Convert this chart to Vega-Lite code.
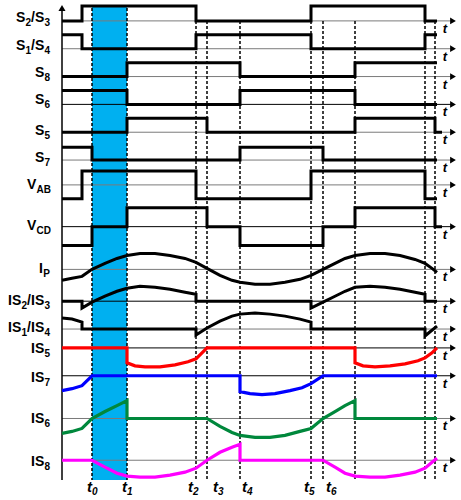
{
  "$schema": "https://vega.github.io/schema/vega-lite/v6.json",
  "width": 461, "height": 500, "padding": 0,
  "autosize": {"type": "fit", "contains": "padding"},
  "background": "white",
  "config": {"view": {"stroke": null}},
  "resolve": {"scale": {"color": "independent"}},
  "datasets": {
    "band": [{"x1": 92, "x2": 127, "y1": 3, "y2": 480}],
    "base": [
      {"y": 18, "c": "g"}, {"y": 46, "c": "g"}, {"y": 74, "c": "g"}, {"y": 102, "c": "k"}, {"y": 130, "c": "g"},
      {"y": 158, "c": "g"}, {"y": 183, "c": "g"}, {"y": 225, "c": "k"}, {"y": 268, "c": "g"}, {"y": 300, "c": "k"},
      {"y": 328, "c": "g"}, {"y": 347, "c": "k"}, {"y": 375, "c": "k"}, {"y": 418, "c": "g"}, {"y": 460, "c": "g"}
    ],
    "dash": [
      {"x": 92, "y1": 5, "y2": 480}, {"x": 127, "y1": 5, "y2": 480}, {"x": 196, "y1": 18, "y2": 480},
      {"x": 207, "y1": 18, "y2": 480}, {"x": 240, "y1": 18, "y2": 480}, {"x": 311, "y1": 18, "y2": 480},
      {"x": 323, "y1": 18, "y2": 480}, {"x": 355, "y1": 18, "y2": 480}, {"x": 425, "y1": 18, "y2": 480},
      {"x": 435, "y1": 18, "y2": 480}
    ],
    "axis": [{"x": 62, "y1": 5, "y2": 480}],
    "sig": [
      {"s": "S23", "i": 0, "x": 62, "y": 18}, {"s": "S23", "i": 1, "x": 82, "y": 18}, {"s": "S23", "i": 2, "x": 82, "y": 3}, {"s": "S23", "i": 3, "x": 196, "y": 3}, {"s": "S23", "i": 4, "x": 196, "y": 18}, {"s": "S23", "i": 5, "x": 311, "y": 18}, {"s": "S23", "i": 6, "x": 311, "y": 3}, {"s": "S23", "i": 7, "x": 425, "y": 3}, {"s": "S23", "i": 8, "x": 425, "y": 18}, {"s": "S23", "i": 9, "x": 437, "y": 18},
      {"s": "S14", "i": 0, "x": 62, "y": 32}, {"s": "S14", "i": 1, "x": 82, "y": 32}, {"s": "S14", "i": 2, "x": 82, "y": 46}, {"s": "S14", "i": 3, "x": 196, "y": 46}, {"s": "S14", "i": 4, "x": 196, "y": 32}, {"s": "S14", "i": 5, "x": 311, "y": 32}, {"s": "S14", "i": 6, "x": 311, "y": 46}, {"s": "S14", "i": 7, "x": 425, "y": 46}, {"s": "S14", "i": 8, "x": 425, "y": 32}, {"s": "S14", "i": 9, "x": 437, "y": 32},
      {"s": "S8", "i": 0, "x": 62, "y": 74}, {"s": "S8", "i": 1, "x": 127, "y": 74}, {"s": "S8", "i": 2, "x": 127, "y": 60}, {"s": "S8", "i": 3, "x": 240, "y": 60}, {"s": "S8", "i": 4, "x": 240, "y": 74}, {"s": "S8", "i": 5, "x": 355, "y": 74}, {"s": "S8", "i": 6, "x": 355, "y": 60}, {"s": "S8", "i": 7, "x": 437, "y": 60},
      {"s": "S6", "i": 0, "x": 62, "y": 88}, {"s": "S6", "i": 1, "x": 127, "y": 88}, {"s": "S6", "i": 2, "x": 127, "y": 102}, {"s": "S6", "i": 3, "x": 240, "y": 102}, {"s": "S6", "i": 4, "x": 240, "y": 88}, {"s": "S6", "i": 5, "x": 355, "y": 88}, {"s": "S6", "i": 6, "x": 355, "y": 102}, {"s": "S6", "i": 7, "x": 437, "y": 102},
      {"s": "S5", "i": 0, "x": 62, "y": 130}, {"s": "S5", "i": 1, "x": 127, "y": 130}, {"s": "S5", "i": 2, "x": 127, "y": 116}, {"s": "S5", "i": 3, "x": 207, "y": 116}, {"s": "S5", "i": 4, "x": 207, "y": 130}, {"s": "S5", "i": 5, "x": 355, "y": 130}, {"s": "S5", "i": 6, "x": 355, "y": 116}, {"s": "S5", "i": 7, "x": 435, "y": 116}, {"s": "S5", "i": 8, "x": 435, "y": 130}, {"s": "S5", "i": 9, "x": 442, "y": 130},
      {"s": "S7", "i": 0, "x": 62, "y": 145}, {"s": "S7", "i": 1, "x": 92, "y": 145}, {"s": "S7", "i": 2, "x": 92, "y": 158}, {"s": "S7", "i": 3, "x": 240, "y": 158}, {"s": "S7", "i": 4, "x": 240, "y": 145}, {"s": "S7", "i": 5, "x": 323, "y": 145}, {"s": "S7", "i": 6, "x": 323, "y": 158}, {"s": "S7", "i": 7, "x": 437, "y": 158},
      {"s": "VAB", "i": 0, "x": 62, "y": 197}, {"s": "VAB", "i": 1, "x": 82, "y": 197}, {"s": "VAB", "i": 2, "x": 82, "y": 169}, {"s": "VAB", "i": 3, "x": 196, "y": 169}, {"s": "VAB", "i": 4, "x": 196, "y": 197}, {"s": "VAB", "i": 5, "x": 311, "y": 197}, {"s": "VAB", "i": 6, "x": 311, "y": 169}, {"s": "VAB", "i": 7, "x": 425, "y": 169}, {"s": "VAB", "i": 8, "x": 425, "y": 197}, {"s": "VAB", "i": 9, "x": 437, "y": 197},
      {"s": "VCD", "i": 0, "x": 62, "y": 244}, {"s": "VCD", "i": 1, "x": 92, "y": 244}, {"s": "VCD", "i": 2, "x": 92, "y": 225}, {"s": "VCD", "i": 3, "x": 127, "y": 225}, {"s": "VCD", "i": 4, "x": 127, "y": 206}, {"s": "VCD", "i": 5, "x": 207, "y": 206}, {"s": "VCD", "i": 6, "x": 207, "y": 225}, {"s": "VCD", "i": 7, "x": 240, "y": 225}, {"s": "VCD", "i": 8, "x": 240, "y": 244}, {"s": "VCD", "i": 9, "x": 323, "y": 244}, {"s": "VCD", "i": 10, "x": 323, "y": 225}, {"s": "VCD", "i": 11, "x": 355, "y": 225}, {"s": "VCD", "i": 12, "x": 355, "y": 206}, {"s": "VCD", "i": 13, "x": 435, "y": 206}, {"s": "VCD", "i": 14, "x": 435, "y": 225}, {"s": "VCD", "i": 15, "x": 442, "y": 225},
      {"s": "IP", "i": 0, "x": 62, "y": 279}, {"s": "IP", "i": 1, "x": 72, "y": 277}, {"s": "IP", "i": 2, "x": 82, "y": 275}, {"s": "IP", "i": 3, "x": 92, "y": 268}, {"s": "IP", "i": 4, "x": 105, "y": 262}, {"s": "IP", "i": 5, "x": 117, "y": 257}, {"s": "IP", "i": 6, "x": 127, "y": 254}, {"s": "IP", "i": 7, "x": 140, "y": 252}, {"s": "IP", "i": 8, "x": 155, "y": 252}, {"s": "IP", "i": 9, "x": 170, "y": 254}, {"s": "IP", "i": 10, "x": 185, "y": 257}, {"s": "IP", "i": 11, "x": 196, "y": 261}, {"s": "IP", "i": 12, "x": 207, "y": 267}, {"s": "IP", "i": 13, "x": 220, "y": 274}, {"s": "IP", "i": 14, "x": 232, "y": 279}, {"s": "IP", "i": 15, "x": 240, "y": 281}, {"s": "IP", "i": 16, "x": 255, "y": 283}, {"s": "IP", "i": 17, "x": 270, "y": 283}, {"s": "IP", "i": 18, "x": 285, "y": 281}, {"s": "IP", "i": 19, "x": 300, "y": 278}, {"s": "IP", "i": 20, "x": 311, "y": 274}, {"s": "IP", "i": 21, "x": 323, "y": 268}, {"s": "IP", "i": 22, "x": 335, "y": 262}, {"s": "IP", "i": 23, "x": 345, "y": 257}, {"s": "IP", "i": 24, "x": 355, "y": 254}, {"s": "IP", "i": 25, "x": 370, "y": 252}, {"s": "IP", "i": 26, "x": 385, "y": 252}, {"s": "IP", "i": 27, "x": 400, "y": 254}, {"s": "IP", "i": 28, "x": 415, "y": 258}, {"s": "IP", "i": 29, "x": 425, "y": 262}, {"s": "IP", "i": 30, "x": 432, "y": 267}, {"s": "IP", "i": 31, "x": 437, "y": 271},
      {"s": "IS23", "i": 0, "x": 62, "y": 300}, {"s": "IS23", "i": 1, "x": 82, "y": 300}, {"s": "IS23", "i": 2, "x": 82, "y": 307}, {"s": "IS23", "i": 3, "x": 92, "y": 301}, {"s": "IS23", "i": 4, "x": 105, "y": 295}, {"s": "IS23", "i": 5, "x": 117, "y": 290}, {"s": "IS23", "i": 6, "x": 127, "y": 287}, {"s": "IS23", "i": 7, "x": 140, "y": 285}, {"s": "IS23", "i": 8, "x": 155, "y": 286}, {"s": "IS23", "i": 9, "x": 170, "y": 288}, {"s": "IS23", "i": 10, "x": 185, "y": 291}, {"s": "IS23", "i": 11, "x": 196, "y": 293}, {"s": "IS23", "i": 12, "x": 196, "y": 300}, {"s": "IS23", "i": 13, "x": 311, "y": 300}, {"s": "IS23", "i": 14, "x": 311, "y": 307}, {"s": "IS23", "i": 15, "x": 323, "y": 301}, {"s": "IS23", "i": 16, "x": 335, "y": 295}, {"s": "IS23", "i": 17, "x": 345, "y": 290}, {"s": "IS23", "i": 18, "x": 355, "y": 286}, {"s": "IS23", "i": 19, "x": 370, "y": 285}, {"s": "IS23", "i": 20, "x": 385, "y": 286}, {"s": "IS23", "i": 21, "x": 400, "y": 288}, {"s": "IS23", "i": 22, "x": 415, "y": 291}, {"s": "IS23", "i": 23, "x": 425, "y": 293}, {"s": "IS23", "i": 24, "x": 425, "y": 300}, {"s": "IS23", "i": 25, "x": 437, "y": 300},
      {"s": "IS14", "i": 0, "x": 62, "y": 317}, {"s": "IS14", "i": 1, "x": 72, "y": 318}, {"s": "IS14", "i": 2, "x": 82, "y": 321}, {"s": "IS14", "i": 3, "x": 82, "y": 328}, {"s": "IS14", "i": 4, "x": 196, "y": 328}, {"s": "IS14", "i": 5, "x": 196, "y": 334}, {"s": "IS14", "i": 6, "x": 207, "y": 327}, {"s": "IS14", "i": 7, "x": 220, "y": 320}, {"s": "IS14", "i": 8, "x": 232, "y": 315}, {"s": "IS14", "i": 9, "x": 240, "y": 313}, {"s": "IS14", "i": 10, "x": 255, "y": 312}, {"s": "IS14", "i": 11, "x": 270, "y": 313}, {"s": "IS14", "i": 12, "x": 285, "y": 315}, {"s": "IS14", "i": 13, "x": 300, "y": 318}, {"s": "IS14", "i": 14, "x": 311, "y": 321}, {"s": "IS14", "i": 15, "x": 311, "y": 328}, {"s": "IS14", "i": 16, "x": 425, "y": 328}, {"s": "IS14", "i": 17, "x": 425, "y": 335}, {"s": "IS14", "i": 18, "x": 431, "y": 330}, {"s": "IS14", "i": 19, "x": 437, "y": 325}
    ],
    "col": [
      {"s": "IS5", "i": 0, "x": 62, "y": 347}, {"s": "IS5", "i": 1, "x": 127, "y": 347}, {"s": "IS5", "i": 2, "x": 127, "y": 362}, {"s": "IS5", "i": 3, "x": 135, "y": 365}, {"s": "IS5", "i": 4, "x": 145, "y": 366}, {"s": "IS5", "i": 5, "x": 160, "y": 366}, {"s": "IS5", "i": 6, "x": 175, "y": 364}, {"s": "IS5", "i": 7, "x": 188, "y": 361}, {"s": "IS5", "i": 8, "x": 196, "y": 358}, {"s": "IS5", "i": 9, "x": 207, "y": 347}, {"s": "IS5", "i": 10, "x": 355, "y": 347}, {"s": "IS5", "i": 11, "x": 355, "y": 362}, {"s": "IS5", "i": 12, "x": 363, "y": 365}, {"s": "IS5", "i": 13, "x": 375, "y": 366}, {"s": "IS5", "i": 14, "x": 390, "y": 365}, {"s": "IS5", "i": 15, "x": 405, "y": 363}, {"s": "IS5", "i": 16, "x": 418, "y": 360}, {"s": "IS5", "i": 17, "x": 425, "y": 357}, {"s": "IS5", "i": 18, "x": 432, "y": 352}, {"s": "IS5", "i": 19, "x": 437, "y": 347},
      {"s": "IS7", "i": 0, "x": 62, "y": 390}, {"s": "IS7", "i": 1, "x": 72, "y": 388}, {"s": "IS7", "i": 2, "x": 82, "y": 385}, {"s": "IS7", "i": 3, "x": 92, "y": 375}, {"s": "IS7", "i": 4, "x": 240, "y": 375}, {"s": "IS7", "i": 5, "x": 240, "y": 391}, {"s": "IS7", "i": 6, "x": 250, "y": 393}, {"s": "IS7", "i": 7, "x": 262, "y": 394}, {"s": "IS7", "i": 8, "x": 275, "y": 393}, {"s": "IS7", "i": 9, "x": 290, "y": 390}, {"s": "IS7", "i": 10, "x": 302, "y": 387}, {"s": "IS7", "i": 11, "x": 311, "y": 383}, {"s": "IS7", "i": 12, "x": 323, "y": 375}, {"s": "IS7", "i": 13, "x": 437, "y": 375},
      {"s": "IS6", "i": 0, "x": 62, "y": 433}, {"s": "IS6", "i": 1, "x": 72, "y": 431}, {"s": "IS6", "i": 2, "x": 82, "y": 428}, {"s": "IS6", "i": 3, "x": 92, "y": 418}, {"s": "IS6", "i": 4, "x": 105, "y": 411}, {"s": "IS6", "i": 5, "x": 117, "y": 405}, {"s": "IS6", "i": 6, "x": 127, "y": 400}, {"s": "IS6", "i": 7, "x": 127, "y": 418}, {"s": "IS6", "i": 8, "x": 207, "y": 418}, {"s": "IS6", "i": 9, "x": 220, "y": 426}, {"s": "IS6", "i": 10, "x": 232, "y": 432}, {"s": "IS6", "i": 11, "x": 240, "y": 435}, {"s": "IS6", "i": 12, "x": 255, "y": 437}, {"s": "IS6", "i": 13, "x": 270, "y": 437}, {"s": "IS6", "i": 14, "x": 285, "y": 435}, {"s": "IS6", "i": 15, "x": 300, "y": 431}, {"s": "IS6", "i": 16, "x": 311, "y": 428}, {"s": "IS6", "i": 17, "x": 323, "y": 418}, {"s": "IS6", "i": 18, "x": 335, "y": 411}, {"s": "IS6", "i": 19, "x": 345, "y": 405}, {"s": "IS6", "i": 20, "x": 355, "y": 400}, {"s": "IS6", "i": 21, "x": 355, "y": 418}, {"s": "IS6", "i": 22, "x": 437, "y": 418},
      {"s": "IS8", "i": 0, "x": 62, "y": 460}, {"s": "IS8", "i": 1, "x": 92, "y": 460}, {"s": "IS8", "i": 2, "x": 105, "y": 467}, {"s": "IS8", "i": 3, "x": 117, "y": 473}, {"s": "IS8", "i": 4, "x": 127, "y": 476}, {"s": "IS8", "i": 5, "x": 140, "y": 477}, {"s": "IS8", "i": 6, "x": 155, "y": 477}, {"s": "IS8", "i": 7, "x": 170, "y": 475}, {"s": "IS8", "i": 8, "x": 185, "y": 472}, {"s": "IS8", "i": 9, "x": 196, "y": 468}, {"s": "IS8", "i": 10, "x": 207, "y": 460}, {"s": "IS8", "i": 11, "x": 220, "y": 452}, {"s": "IS8", "i": 12, "x": 232, "y": 447}, {"s": "IS8", "i": 13, "x": 240, "y": 444}, {"s": "IS8", "i": 14, "x": 240, "y": 460}, {"s": "IS8", "i": 15, "x": 323, "y": 460}, {"s": "IS8", "i": 16, "x": 335, "y": 467}, {"s": "IS8", "i": 17, "x": 345, "y": 473}, {"s": "IS8", "i": 18, "x": 355, "y": 476}, {"s": "IS8", "i": 19, "x": 370, "y": 477}, {"s": "IS8", "i": 20, "x": 385, "y": 477}, {"s": "IS8", "i": 21, "x": 400, "y": 475}, {"s": "IS8", "i": 22, "x": 415, "y": 472}, {"s": "IS8", "i": 23, "x": 425, "y": 468}, {"s": "IS8", "i": 24, "x": 432, "y": 462}, {"s": "IS8", "i": 25, "x": 437, "y": 458}
    ],
    "lm": [
      {"x": 16, "y": 15, "t": "S"}, {"x": 31, "y": 15, "t": "/"}, {"x": 35, "y": 15, "t": "S"},
      {"x": 16, "y": 43, "t": "S"}, {"x": 31, "y": 43, "t": "/"}, {"x": 35, "y": 43, "t": "S"},
      {"x": 35, "y": 70, "t": "S"}, {"x": 35, "y": 98, "t": "S"}, {"x": 35, "y": 129, "t": "S"}, {"x": 35, "y": 156, "t": "S"},
      {"x": 27, "y": 183, "t": "V"}, {"x": 27, "y": 224, "t": "V"}, {"x": 39, "y": 268, "t": "I"},
      {"x": 8, "y": 300, "t": "IS"}, {"x": 27, "y": 300, "t": "/"}, {"x": 31, "y": 300, "t": "IS"},
      {"x": 8, "y": 327, "t": "IS"}, {"x": 27, "y": 327, "t": "/"}, {"x": 31, "y": 327, "t": "IS"},
      {"x": 31, "y": 348, "t": "IS"}, {"x": 31, "y": 377, "t": "IS"}, {"x": 31, "y": 419, "t": "IS"}, {"x": 31, "y": 462, "t": "IS"}
    ],
    "ls": [
      {"x": 25.5, "y": 15, "t": "2"}, {"x": 44.5, "y": 15, "t": "3"},
      {"x": 25.5, "y": 43, "t": "1"}, {"x": 44.5, "y": 43, "t": "4"},
      {"x": 44.5, "y": 70, "t": "8"}, {"x": 44.5, "y": 98, "t": "6"}, {"x": 44.5, "y": 129, "t": "5"}, {"x": 44.5, "y": 156, "t": "7"},
      {"x": 36.5, "y": 183, "t": "AB"}, {"x": 36.5, "y": 224, "t": "CD"}, {"x": 43.3, "y": 268, "t": "P"},
      {"x": 21.5, "y": 300, "t": "2"}, {"x": 44.5, "y": 300, "t": "3"},
      {"x": 21.5, "y": 327, "t": "1"}, {"x": 44.5, "y": 327, "t": "4"},
      {"x": 44.5, "y": 348, "t": "5"}, {"x": 44.5, "y": 377, "t": "7"}, {"x": 44.5, "y": 419, "t": "6"}, {"x": 44.5, "y": 462, "t": "8"}
    ],
    "tm": [
      {"x": 87, "y": 487, "t": "t"}, {"x": 122, "y": 487, "t": "t"}, {"x": 188, "y": 487, "t": "t"},
      {"x": 213, "y": 487, "t": "t"}, {"x": 242, "y": 487, "t": "t"}, {"x": 304, "y": 487, "t": "t"},
      {"x": 326, "y": 487, "t": "t"}
    ],
    "ts": [
      {"x": 92, "y": 487, "t": "0"}, {"x": 127, "y": 487, "t": "1"}, {"x": 193, "y": 487, "t": "2"},
      {"x": 218, "y": 487, "t": "3"}, {"x": 247, "y": 487, "t": "4"}, {"x": 309, "y": 487, "t": "5"},
      {"x": 331, "y": 487, "t": "6"}
    ]
  },
  "layer": [
    {"data": {"name": "band"}, "mark": {"type": "rect", "color": "#00b0f0"},
     "encoding": {"x": {"field": "x1", "type": "quantitative", "scale": {"domain": [0, 461], "nice": false, "zero": false}, "axis": null},
                  "x2": {"field": "x2"},
                  "y": {"field": "y1", "type": "quantitative", "scale": {"domain": [0, 500], "reverse": true, "nice": false, "zero": false}, "axis": null},
                  "y2": {"field": "y2"}}},
    {"data": {"name": "base"}, "transform": [{"calculate": "62", "as": "xs"}, {"calculate": "452", "as": "xe"}],
     "mark": {"type": "rule", "strokeWidth": 1},
     "encoding": {"x": {"field": "xs", "type": "quantitative"}, "x2": {"field": "xe"}, "y": {"field": "y", "type": "quantitative"},
                  "color": {"field": "c", "type": "nominal", "scale": {"domain": ["k", "g"], "range": ["#000000", "#7a7a7a"]}, "legend": null}}},
    {"data": {"name": "dash"}, "mark": {"type": "rule", "strokeWidth": 1.5, "strokeDash": [3, 2], "color": "black"},
     "encoding": {"x": {"field": "x", "type": "quantitative"}, "y": {"field": "y1", "type": "quantitative"}, "y2": {"field": "y2"}}},
    {"data": {"name": "axis"}, "mark": {"type": "rule", "strokeWidth": 1.5, "color": "black"},
     "encoding": {"x": {"field": "x", "type": "quantitative"}, "y": {"field": "y1", "type": "quantitative"}, "y2": {"field": "y2"}}},
    {"data": {"name": "axis"}, "mark": {"type": "point", "shape": "triangle-up", "filled": true, "color": "black", "size": 50, "opacity": 1},
     "encoding": {"x": {"field": "x", "type": "quantitative"}, "y": {"field": "y1", "type": "quantitative"}}},
    {"data": {"name": "sig"}, "mark": {"type": "line", "color": "black", "strokeWidth": 3, "strokeJoin": "miter"},
     "encoding": {"x": {"field": "x", "type": "quantitative"}, "y": {"field": "y", "type": "quantitative"},
                  "detail": {"field": "s"}, "order": {"field": "i", "type": "quantitative"}}},
    {"data": {"name": "col"}, "mark": {"type": "line", "strokeWidth": 3.2},
     "encoding": {"x": {"field": "x", "type": "quantitative"}, "y": {"field": "y", "type": "quantitative"},
                  "color": {"field": "s", "type": "nominal", "scale": {"domain": ["IS5", "IS7", "IS6", "IS8"], "range": ["#ff0000", "#0000ff", "#00883c", "#ff00ff"]}, "legend": null},
                  "order": {"field": "i", "type": "quantitative"}}},
    {"data": {"name": "base"}, "transform": [{"calculate": "453", "as": "xa"}],
     "mark": {"type": "point", "shape": "triangle-right", "filled": true, "color": "black", "size": 45, "opacity": 1},
     "encoding": {"x": {"field": "xa", "type": "quantitative"}, "y": {"field": "y", "type": "quantitative"}}},
    {"data": {"name": "base"}, "transform": [{"calculate": "445", "as": "xt"}, {"calculate": "datum.y + 8", "as": "yt"}],
     "mark": {"type": "text", "text": "t", "font": "Liberation Sans", "fontStyle": "italic", "fontWeight": "bold", "fontSize": 13, "align": "center", "baseline": "middle"},
     "encoding": {"x": {"field": "xt", "type": "quantitative"}, "y": {"field": "yt", "type": "quantitative"}}},
    {"data": {"name": "lm"}, "mark": {"type": "text", "font": "Liberation Sans", "fontWeight": "bold", "fontSize": 14, "align": "left", "baseline": "middle"},
     "encoding": {"x": {"field": "x", "type": "quantitative"}, "y": {"field": "y", "type": "quantitative"}, "text": {"field": "t"}}},
    {"data": {"name": "ls"}, "mark": {"type": "text", "font": "Liberation Sans", "fontWeight": "bold", "fontSize": 10, "align": "left", "baseline": "middle", "dy": 5},
     "encoding": {"x": {"field": "x", "type": "quantitative"}, "y": {"field": "y", "type": "quantitative"}, "text": {"field": "t"}}},
    {"data": {"name": "tm"}, "mark": {"type": "text", "font": "Liberation Sans", "fontStyle": "italic", "fontWeight": "bold", "fontSize": 15, "align": "left", "baseline": "middle"},
     "encoding": {"x": {"field": "x", "type": "quantitative"}, "y": {"field": "y", "type": "quantitative"}, "text": {"field": "t"}}},
    {"data": {"name": "ts"}, "mark": {"type": "text", "font": "Liberation Sans", "fontStyle": "italic", "fontWeight": "bold", "fontSize": 10, "align": "left", "baseline": "middle", "dy": 5},
     "encoding": {"x": {"field": "x", "type": "quantitative"}, "y": {"field": "y", "type": "quantitative"}, "text": {"field": "t"}}}
  ]
}
